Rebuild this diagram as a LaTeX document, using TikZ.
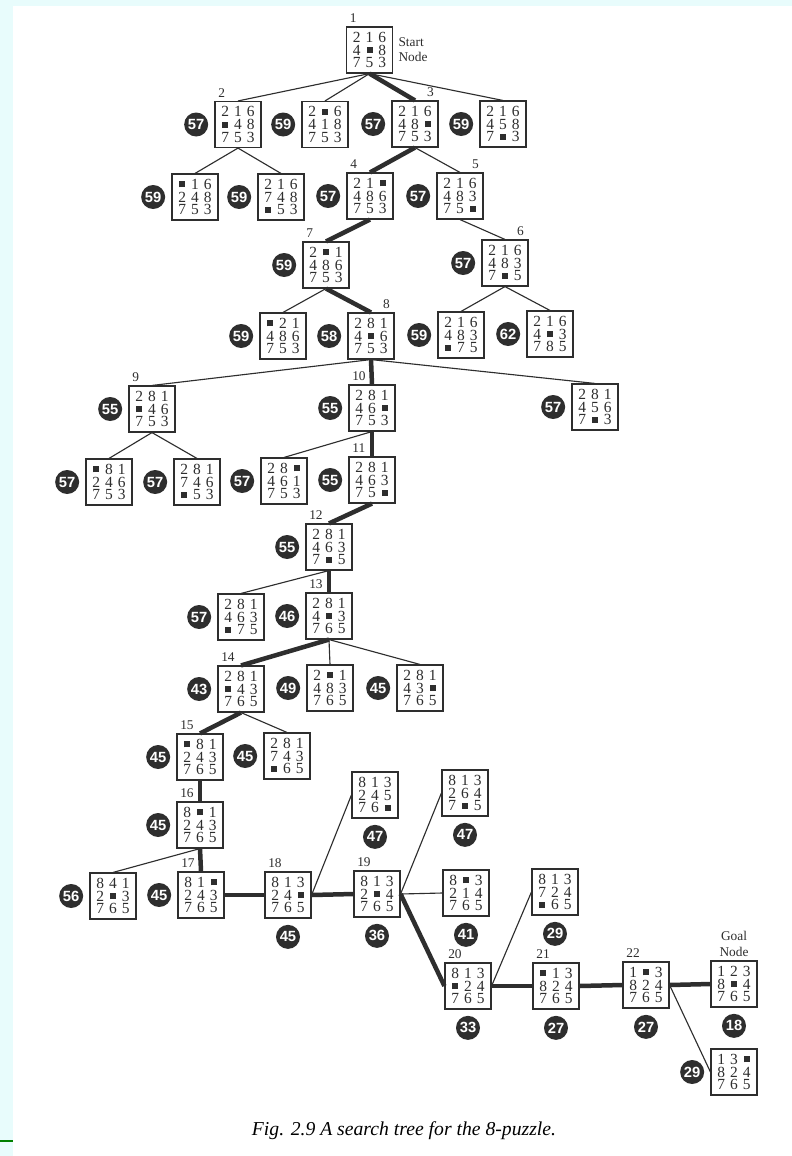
\documentclass[tikz,border=0pt]{standalone}
\usepackage{fontspec}
\setmainfont{Liberation Serif}
\newfontfamily\badgefont{Liberation Sans}
\usetikzlibrary{positioning}
\definecolor{slidebg}{HTML}{E8FCFC}
\definecolor{ink}{HTML}{2E2E2E}
\newcommand{\bk}{\rule[0.5mm]{1.5mm}{1.5mm}}
\newcommand{\cell}[1]{\makebox[3.2mm]{#1}}
\newcommand{\pz}[9]{\cell{#1}\cell{#2}\cell{#3}\\\cell{#4}\cell{#5}\cell{#6}\\\cell{#7}\cell{#8}\cell{#9}}

\begin{document}
\begin{tikzpicture}[x=0.25mm, y=-0.25mm, every node/.style={text=ink},
  state/.style={draw=ink, line width=0.8pt, fill=white, minimum width=11.5mm, minimum height=11.5mm, inner sep=0pt, align=center, font=\fontsize{11}{9.1}\selectfont},
  fval/.style={circle, fill=ink, text=white, minimum size=6mm, inner sep=0pt, font=\badgefont\bfseries\fontsize{10.5}{10}\selectfont},
  num/.style={inner sep=0.3mm, font=\fontsize{9.5}{10}\selectfont},
  note/.style={inner sep=0.5mm, font=\fontsize{9.5}{10.7}\selectfont},
  move/.style={draw=ink, line width=0.8pt},
  bestmove/.style={draw=ink, line width=3.2pt}]
\useasboundingbox (0,0) rectangle (792,1156);
\fill[slidebg] (0,0) rectangle (792,1156);
\fill[white] (13,6) rectangle (792,1156);
\draw[green!50!black, line width=1.4pt] (0,1141) -- (13,1141);

% start
\node[state] (n1) at (369.5,50) {\pz{2}{1}{6}{4}{\bk}{8}{7}{5}{3}};
\node[num, above right=0.6mm and 0.6mm of n1.north west] (l1) {1};
\node[note, align=left, right=0.8mm of n1] (start) {Start\\Node};

% depth 1
\node[state] (n2) at (238,124.5) {\pz{2}{1}{6}{\bk}{4}{8}{7}{5}{3}};
\node[fval, left=1.5mm of n2] (f2) {57};
\node[num, above right=0.6mm and 0.6mm of n2.north west] (l2) {2};
\node[state] (a1) at (325,124.5) {\pz{2}{\bk}{6}{4}{1}{8}{7}{5}{3}};
\node[fval, left=1.5mm of a1] (fa1) {59};
\node[state] (n3) at (415,124) {\pz{2}{1}{6}{4}{8}{\bk}{7}{5}{3}};
\node[fval, left=1.5mm of n3] (f3) {57};
\node[num, above left=0.6mm and 0.85mm of n3.north east] (l3) {3};
\node[state] (a2) at (503,124) {\pz{2}{1}{6}{4}{5}{8}{7}{\bk}{3}};
\node[fval, left=1.5mm of a2] (fa2) {59};

% depth 2
\node[state] (b1) at (195,197) {\pz{\bk}{1}{6}{2}{4}{8}{7}{5}{3}};
\node[fval, left=1.5mm of b1] (fb1) {59};
\node[state] (b2) at (281,197) {\pz{2}{1}{6}{7}{4}{8}{\bk}{5}{3}};
\node[fval, left=1.5mm of b2] (fb2) {59};
\node[state] (n4) at (370,196) {\pz{2}{1}{\bk}{4}{8}{6}{7}{5}{3}};
\node[fval, left=1.5mm of n4] (f4) {57};
\node[num, above right=0.6mm and 0.6mm of n4.north west] (l4) {4};
\node[state] (n5) at (460,196) {\pz{2}{1}{6}{4}{8}{3}{7}{5}{\bk}};
\node[fval, left=1.5mm of n5] (f5) {57};
\node[num, above left=0.6mm and 0.85mm of n5.north east] (l5) {5};

% depth 3
\node[state] (n7) at (326,265) {\pz{2}{\bk}{1}{4}{8}{6}{7}{5}{3}};
\node[fval, left=1.5mm of n7] (f7) {59};
\node[num, above right=0.6mm and 0.6mm of n7.north west] (l7) {7};
\node[state] (n6) at (505,263) {\pz{2}{1}{6}{4}{8}{3}{7}{\bk}{5}};
\node[fval, left=1.5mm of n6] (f6) {57};
\node[num, above left=0.6mm and 0.85mm of n6.north east] (l6) {6};

% depth 4
\node[state] (c1) at (283,336) {\pz{\bk}{2}{1}{4}{8}{6}{7}{5}{3}};
\node[fval, left=1.5mm of c1] (fc1) {59};
\node[state] (n8) at (371,336) {\pz{2}{8}{1}{4}{\bk}{6}{7}{5}{3}};
\node[fval, left=1.5mm of n8] (f8) {58};
\node[num, above left=0.6mm and 0.85mm of n8.north east] (l8) {8};
\node[state] (c2) at (461,335) {\pz{2}{1}{6}{4}{8}{3}{\bk}{7}{5}};
\node[fval, left=1.5mm of c2] (fc2) {59};
\node[state] (c3) at (550,334) {\pz{2}{1}{6}{4}{\bk}{3}{7}{8}{5}};
\node[fval, left=1.5mm of c3] (fc3) {62};

% depth 5
\node[state] (n9) at (152,409) {\pz{2}{8}{1}{\bk}{4}{6}{7}{5}{3}};
\node[fval, left=1.5mm of n9] (f9) {55};
\node[num, above right=0.6mm and 0.6mm of n9.north west] (l9) {9};
\node[state] (n10) at (372,408) {\pz{2}{8}{1}{4}{6}{\bk}{7}{5}{3}};
\node[fval, left=1.5mm of n10] (f10) {55};
\node[num, above right=0.6mm and 0.6mm of n10.north west] (l10) {10};
\node[state] (d1) at (595,407) {\pz{2}{8}{1}{4}{5}{6}{7}{\bk}{3}};
\node[fval, left=1.5mm of d1] (fd1) {57};

% depth 6
\node[state] (e1) at (109,482) {\pz{\bk}{8}{1}{2}{4}{6}{7}{5}{3}};
\node[fval, left=1.5mm of e1] (fe1) {57};
\node[state] (e2) at (197,482) {\pz{2}{8}{1}{7}{4}{6}{\bk}{5}{3}};
\node[fval, left=1.5mm of e2] (fe2) {57};
\node[state] (e3) at (284,481) {\pz{2}{8}{\bk}{4}{6}{1}{7}{5}{3}};
\node[fval, left=1.5mm of e3] (fe3) {57};
\node[state] (n11) at (372,480) {\pz{2}{8}{1}{4}{6}{3}{7}{5}{\bk}};
\node[fval, left=1.5mm of n11] (f11) {55};
\node[num, above right=0.6mm and 0.6mm of n11.north west] (l11) {11};

% depth 7 to 10
\node[state] (n12) at (329,547) {\pz{2}{8}{1}{4}{6}{3}{7}{\bk}{5}};
\node[fval, left=1.5mm of n12] (f12) {55};
\node[num, above right=0.6mm and 0.6mm of n12.north west] (l12) {12};
\node[state] (f1) at (241,617) {\pz{2}{8}{1}{4}{6}{3}{\bk}{7}{5}};
\node[fval, left=1.5mm of f1] (ff1) {57};
\node[state] (n13) at (329,616) {\pz{2}{8}{1}{4}{\bk}{3}{7}{6}{5}};
\node[fval, left=1.5mm of n13] (f13) {46};
\node[num, above right=0.6mm and 0.6mm of n13.north west] (l13) {13};
\node[state] (n14) at (241,689) {\pz{2}{8}{1}{\bk}{4}{3}{7}{6}{5}};
\node[fval, left=1.5mm of n14] (f14) {43};
\node[num, above right=0.6mm and 0.6mm of n14.north west] (l14) {14};
\node[state] (g1) at (330,688) {\pz{2}{\bk}{1}{4}{8}{3}{7}{6}{5}};
\node[fval, left=1.5mm of g1] (fg1) {49};
\node[state] (g2) at (420,688) {\pz{2}{8}{1}{4}{3}{\bk}{7}{6}{5}};
\node[fval, left=1.5mm of g2] (fg2) {45};
\node[state] (n15) at (200,757) {\pz{\bk}{8}{1}{2}{4}{3}{7}{6}{5}};
\node[fval, left=1.5mm of n15] (f15) {45};
\node[num, above right=0.6mm and 0.6mm of n15.north west] (l15) {15};
\node[state] (h1) at (287,756) {\pz{2}{8}{1}{7}{4}{3}{\bk}{6}{5}};
\node[fval, left=1.5mm of h1] (fh1) {45};
\node[state] (n16) at (200,825) {\pz{8}{\bk}{1}{2}{4}{3}{7}{6}{5}};
\node[fval, left=1.5mm of n16] (f16) {45};
\node[num, above right=0.6mm and 0.6mm of n16.north west] (l16) {16};

% bottom row
\node[state] (i1) at (113,896) {\pz{8}{4}{1}{2}{\bk}{3}{7}{6}{5}};
\node[fval, left=1.5mm of i1] (fi1) {56};
\node[state] (n17) at (201,895) {\pz{8}{1}{\bk}{2}{4}{3}{7}{6}{5}};
\node[fval, left=1.5mm of n17] (f17) {45};
\node[num, above right=0.6mm and 0.6mm of n17.north west] (l17) {17};
\node[state] (n18) at (288,895) {\pz{8}{1}{3}{2}{4}{\bk}{7}{6}{5}};
\node[fval, below=1.5mm of n18] (f18) {45};
\node[num, above right=0.6mm and 0.6mm of n18.north west] (l18) {18};
\node[state] (j1) at (375,795) {\pz{8}{1}{3}{2}{4}{5}{7}{6}{\bk}};
\node[fval, below=1.5mm of j1] (fj1) {47};
\node[state] (n19) at (377,894) {\pz{8}{1}{3}{2}{\bk}{4}{7}{6}{5}};
\node[fval, below=1.5mm of n19] (f19) {36};
\node[num, above right=0.6mm and 0.6mm of n19.north west] (l19) {19};
\node[state] (k1) at (465,793) {\pz{8}{1}{3}{2}{6}{4}{7}{\bk}{5}};
\node[fval, below=1.5mm of k1] (fk1) {47};
\node[state] (k2) at (466,893) {\pz{8}{\bk}{3}{2}{1}{4}{7}{6}{5}};
\node[fval, below=1.5mm of k2] (fk2) {41};
\node[state] (l1) at (555,892) {\pz{8}{1}{3}{7}{2}{4}{\bk}{6}{5}};
\node[fval, below=1.5mm of l1] (fl1) {29};
\node[state] (n20) at (468,986) {\pz{8}{1}{3}{\bk}{2}{4}{7}{6}{5}};
\node[fval, below=1.5mm of n20] (f20) {33};
\node[num, above right=0.6mm and 0.6mm of n20.north west] (l20) {20};
\node[state] (n21) at (556,986) {\pz{\bk}{1}{3}{8}{2}{4}{7}{6}{5}};
\node[fval, below=1.5mm of n21] (f21) {27};
\node[num, above right=0.6mm and 0.6mm of n21.north west] (l21) {21};
\node[state] (n22) at (646,985) {\pz{1}{\bk}{3}{8}{2}{4}{7}{6}{5}};
\node[fval, below=1.5mm of n22] (f22) {27};
\node[num, above right=0.6mm and 0.6mm of n22.north west] (l22) {22};
\node[state] (goal) at (734,984) {\pz{1}{2}{3}{8}{\bk}{4}{7}{6}{5}};
\node[fval, below=1.5mm of goal] (fgoal) {18};
\node[note, align=center, above=0.5mm of goal] (goaltxt) {Goal\\Node};
\node[state] (m1) at (734,1072) {\pz{1}{3}{\bk}{8}{2}{4}{7}{6}{5}};
\node[fval, left=1.5mm of m1] (fm1) {29};

% connectors
\draw[move] (n1.south) -- (n2.north);
\draw[move] (n1.south) -- (a1.north);
\draw[bestmove] (n1.south) -- (n3.north);
\draw[move] (n1.south) -- (a2.north);
\draw[move] (n2.south) -- (b1.north);
\draw[move] (n2.south) -- (b2.north);
\draw[bestmove] (n3.south) -- (n4.north);
\draw[move] (n3.south) -- (n5.north);
\draw[bestmove] (n4.south) -- (n7.north);
\draw[move] (n5.south) -- (n6.north);
\draw[move] (n7.south) -- (c1.north);
\draw[bestmove] (n7.south) -- (n8.north);
\draw[move] (n6.south) -- (c2.north);
\draw[move] (n6.south) -- (c3.north);
\draw[move] (n8.south) -- (n9.north);
\draw[bestmove] (n8.south) -- (n10.north);
\draw[move] (n8.south) -- (d1.north);
\draw[move] (n9.south) -- (e1.north);
\draw[move] (n9.south) -- (e2.north);
\draw[move] (n10.south) -- (e3.north);
\draw[bestmove] (n10.south) -- (n11.north);
\draw[bestmove] (n11.south) -- (n12.north);
\draw[move] (n12.south) -- (f1.north);
\draw[bestmove] (n12.south) -- (n13.north);
\draw[bestmove] (n13.south) -- (n14.north);
\draw[move] (n13.south) -- (g1.north);
\draw[move] (n13.south) -- (g2.north);
\draw[bestmove] (n14.south) -- (n15.north);
\draw[move] (n14.south) -- (h1.north);
\draw[bestmove] (n15.south) -- (n16.north);
\draw[move] (n16.south) -- (i1.north);
\draw[bestmove] (n16.south) -- (n17.north);
\draw[bestmove] (n17.east) -- (n18.west);
\draw[move] (n18.east) -- (j1.west);
\draw[bestmove] (n18.east) -- (n19.west);
\draw[move] (n19.east) -- (k1.west);
\draw[move] (n19.east) -- (k2.west);
\draw[bestmove] (n19.east) -- (n20.west);
\draw[move] (n20.east) -- (l1.west);
\draw[bestmove] (n20.east) -- (n21.west);
\draw[bestmove] (n21.east) -- (n22.west);
\draw[bestmove] (n22.east) -- (goal.west);
\draw[move] (n22.east) -- (m1.west);

\node[font=\itshape\fontsize{14}{16}\selectfont, text=black] (caption) at (404,1131) {Fig. 2.9 A search tree for the 8-puzzle.};
\end{tikzpicture}
\end{document}
